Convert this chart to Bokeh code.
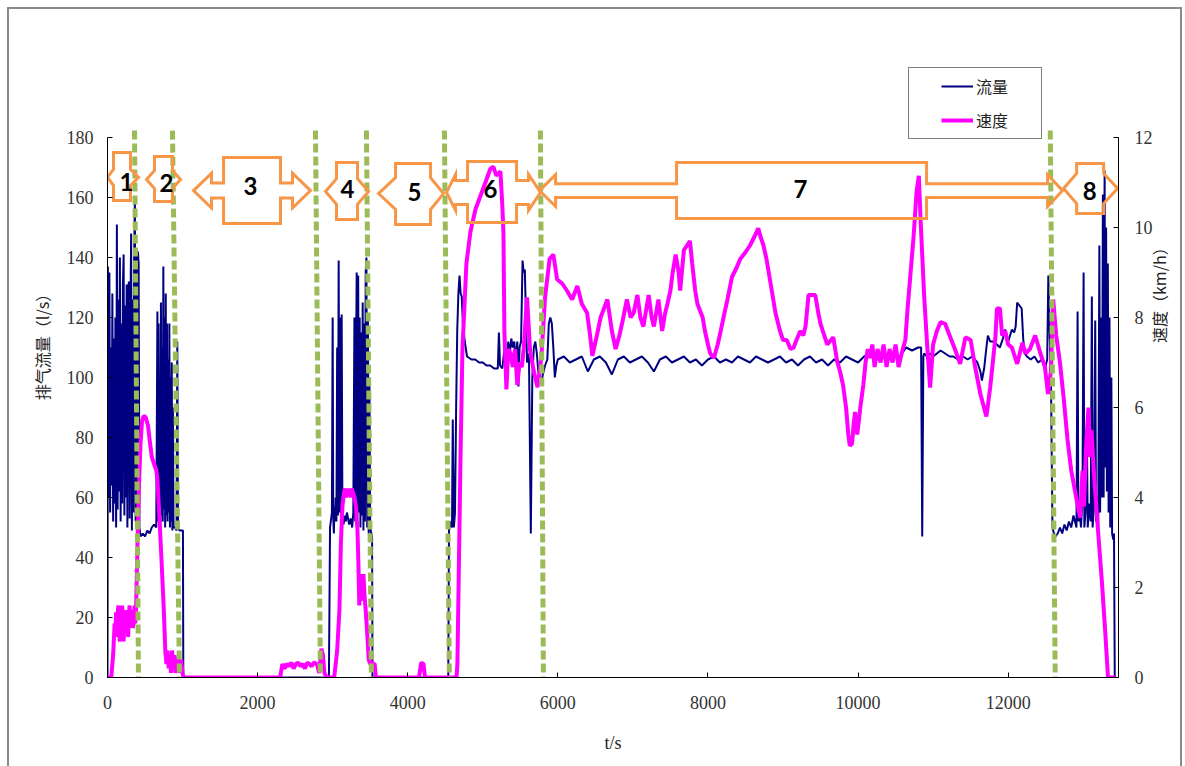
import math

from bokeh.core.properties import value
from bokeh.embed import file_html
from bokeh.models import FixedTicker, Legend, LegendItem, LinearAxis, Range1d
from bokeh.plotting import figure
from bokeh.resources import INLINE

# ---------------------------------------------------------------- data ----
# exhaust flow (l/s) against time (s), phase by phase
flow_t_p1 = [0, 5, 15, 25, 35, 45, 55, 65, 75, 85, 95, 105, 115, 125, 135, 145, 155, 165, 175, 185,
             195, 205, 215, 225, 235, 245, 255, 265, 275, 285, 295, 305, 315, 325, 335, 345, 355, 365,
             375, 385, 395, 405, 415, 425, 440, 470, 500, 530, 560, 590, 620, 650]
flow_q_p1 = [0, 137, 60, 135, 55, 110, 64, 128, 52, 113, 58, 120, 50, 151, 56, 126, 62, 140, 52, 118,
             58, 131, 141, 54, 124, 60, 131, 50, 129, 132, 53, 120, 148, 49, 126, 55, 140, 160,
             52, 143, 48, 142, 138, 50, 47, 48, 47, 49, 48, 50, 51, 50]

flow_t_p2 = [665, 672, 680, 688, 696, 704, 712, 720, 728, 736, 744, 752, 760, 768, 776, 784, 792, 800,
             808, 816, 824, 832, 840, 848, 856, 864, 872, 880, 900, 920, 930, 940, 960, 990, 1005, 1010]
flow_q_p2 = [122, 52, 118, 55, 98, 50, 125, 54, 110, 52, 137, 56, 120, 50, 128, 54, 118, 52,
             106, 55, 118, 50, 100, 52, 105, 49, 90, 50, 50, 49, 112, 50, 49, 49, 49, 0]

flow_t_p4 = [2950, 2965, 2980, 2990, 3000, 3008, 3016, 3024, 3032, 3040, 3050, 3060, 3070, 3080, 3090,
             3100, 3110, 3120, 3130, 3145, 3160, 3175, 3190, 3205, 3220, 3240, 3260, 3275, 3290, 3300,
             3310, 3320, 3330, 3340, 3350, 3360, 3370, 3380, 3390, 3400, 3410, 3420, 3430, 3440, 3450,
             3460, 3470, 3480, 3490, 3500, 3515, 3525, 3530]
flow_q_p4 = [0, 50, 53, 55, 120, 53, 48, 57, 52, 60, 52, 110, 54, 139, 55,
             120, 52, 121, 53, 51, 54, 52, 55, 53, 51, 53, 50, 55, 120, 52,
             100, 135, 54, 134, 55, 120, 50, 115, 54, 125, 49, 118, 52, 135, 140,
             50, 120, 48, 100, 50, 48, 47, 0]

flow_t_p6 = [4540, 4550, 4570, 4590, 4600, 4615, 4630, 4645, 4660, 4675, 4690, 4705, 4720, 4735, 4760,
             4790, 4850, 4900, 4950, 5000, 5050, 5100, 5150, 5200, 5215, 5230, 5260, 5290, 5310, 5340,
             5360, 5380, 5400, 5420, 5440, 5460, 5475, 5490, 5510, 5530, 5545, 5560, 5590, 5615, 5640,
             5660, 5680, 5700, 5720, 5740, 5760, 5780, 5800, 5830, 5860, 5880, 5900, 5920, 5940, 5960,
             5980]
flow_q_p6 = [0, 49, 52, 50, 86, 50, 55, 90, 116, 128, 134, 128, 127, 118, 112,
             107, 106, 106, 105, 105, 104, 104, 103, 103, 115, 104, 103, 110, 104, 112,
             108, 113, 110, 112, 105, 112, 97, 110, 112, 139, 135, 136, 105, 108, 48,
             100, 110, 112, 108, 102, 100, 98, 101, 104, 106, 118, 120, 118, 110, 100,
             104]

flow_t_p7 = [6000, 6080, 6160, 6240, 6320, 6400, 6480, 6560, 6640, 6720, 6800, 6880, 6960, 7040, 7120,
             7200, 7280, 7360, 7440, 7520, 7600, 7680, 7760, 7840, 7920, 8000, 8080, 8160, 8240, 8320,
             8400, 8480, 8560, 8640, 8720, 8800, 8880, 8960, 9040, 9120, 9200, 9280, 9360, 9440, 9520,
             9600, 9680, 9760, 9840, 9920, 10000, 10080, 10160, 10240, 10320, 10400, 10480, 10560,
             10640, 10720, 10800, 10840, 10855, 10870, 10880, 10920, 10960, 11000, 11050, 11100,
             11160, 11220, 11270, 11330, 11400, 11460, 11520, 11590, 11630, 11650, 11680, 11710,
             11730, 11760, 11800, 11850, 11890, 11930, 11960, 12000, 12050, 12080, 12100, 12120,
             12150, 12180, 12200, 12220, 12250, 12300, 12350, 12400, 12450, 12490, 12520, 12535,
             12550, 12570, 12590]
flow_q_p7 = [106, 107, 105, 106, 107, 102, 106, 107, 105, 101, 106, 107, 105, 106, 107,
             105, 102, 106, 107, 105, 106, 107, 105, 106, 104, 106, 107, 105, 106, 105,
             107, 106, 105, 107, 106, 105, 106, 107, 105, 106, 104, 106, 107, 105, 106,
             104, 106, 105, 107, 106, 105, 107, 108, 106, 107, 106, 108, 107,
             110, 109, 110, 110, 47, 107, 108, 107, 108, 107, 108, 109,
             108, 107, 107, 106, 107, 106, 107, 105, 102, 99, 103, 110,
             114, 112, 112, 111, 110, 113, 116, 112, 116, 115, 117, 125,
             124, 123, 113, 108, 107, 106, 107, 105, 106, 103, 106, 134,
             118, 100, 50]

flow_t_p8 = [12610, 12630, 12660, 12690, 12720, 12750, 12780, 12810, 12840, 12870, 12890, 12910, 12925,
             12935, 12950, 12970, 12990, 13005, 13015, 13030, 13050, 13060, 13080, 13100, 13115, 13125,
             13140, 13160, 13170, 13185, 13200, 13215, 13225, 13240, 13250, 13262, 13272, 13285, 13295,
             13305, 13315, 13328, 13338, 13350, 13360, 13375, 13385, 13400, 13410, 13420, 13440]
flow_q_p8 = [48, 47, 48, 50, 48, 51, 49, 52, 50, 54, 52, 50, 122,
             52, 56, 50, 60, 135, 50, 55, 78, 50, 58, 52, 127, 50,
             56, 119, 52, 60, 50, 144, 55, 120, 60, 161, 60, 169, 70,
             150, 62, 138, 55, 120, 50, 100, 48, 46, 48, 0, 0]

# vehicle speed (km/h) against time (s)
speed_t_p1 = [0, 50, 75, 95, 105, 115, 125, 135, 145, 155, 165, 175, 185, 195, 205, 215, 225, 235, 245,
              255, 265, 275, 285, 295, 305, 320, 335, 350, 360, 370, 380, 400, 420, 440, 460, 480, 505,
              540, 560, 590, 610, 630, 650, 665, 690, 720, 750, 770, 785, 800, 815, 830, 845, 860, 875,
              890, 905, 920, 935, 950, 965, 980, 1000, 1010]
speed_v_p1 = [0, 0, 0.5, 1.2, 1.0, 1.45, 0.9, 1.4, 1.6, 1.0, 0.8, 1.3, 1.1, 1.6, 1.2, 0.8, 1.3, 1.0, 1.5,
              1.2, 1.3, 0.9, 1.4, 1.6, 1.1, 1.5, 1.1, 1.2, 1.6, 1.2, 1.5, 3.0, 4.3, 5.2, 5.7, 5.8, 5.8,
              5.6, 5.3, 4.9, 4.8, 4.7, 4.6, 4.4, 3.6, 2.6, 1.5, 0.6, 0.3, 0.6, 0.2, 0.5, 0.1, 0.6, 0.3,
              0.5, 0.1, 0.4, 0.2, 0.5, 0.1, 0.4, 0.1, 0]

speed_t_p3 = [2300, 2330, 2360, 2390, 2420, 2450, 2480, 2510, 2540, 2570, 2600, 2630, 2660, 2690, 2720,
              2750, 2790, 2820, 2850, 2870, 2890, 2920]
speed_v_p3 = [0, 0.3, 0.2, 0.3, 0.25, 0.33, 0.2, 0.3, 0.33, 0.25, 0.3, 0.2, 0.33, 0.3, 0.25,
              0.33, 0.3, 0.1, 0.64, 0.5, 0.1, 0]

speed_t_p4 = [3020, 3040, 3060, 3090, 3110, 3130, 3150, 3165, 3180, 3195, 3210, 3225, 3240, 3255, 3270,
              3290, 3310, 3330, 3345, 3355, 3365, 3375, 3385, 3395, 3410, 3425, 3440, 3460, 3480, 3500,
              3520, 3540, 3560, 3575]
speed_v_p4 = [0, 0.3, 0.6, 1.5, 3.0, 3.8, 4.1, 4.2, 4.0, 4.2, 4.05, 4.2, 4.0, 4.2, 4.1,
              4.0, 3.8, 3.3, 2.4, 1.6, 2.3, 1.7, 2.3, 1.8, 2.3, 1.8, 1.5, 1.0, 0.4, 0.3,
              0.35, 0.3, 0.3, 0]

speed_t_p5 = [4150, 4180, 4210, 4230]
speed_v_p5 = [0, 0.33, 0.3, 0]

speed_t_p6 = [4650, 4662, 4702, 4729, 4782, 4835, 4902, 4968, 5035, 5100, 5142, 5180, 5235, 5260, 5275,
              5288, 5315, 5340, 5370, 5400, 5430, 5460, 5490, 5520, 5545, 5590, 5630, 5680, 5730, 5780,
              5830, 5890, 5940, 5990]
speed_v_p6 = [0, 0.3, 4.75, 7.3, 9.2, 9.9, 10.4, 10.7, 11.0, 11.3, 11.35, 11.15, 11.25, 10.5, 9.9,
              7.7, 6.4, 7.3, 7.2, 6.9, 7.3, 6.5, 7.0, 6.9, 7.3, 8.45, 7.27, 6.8, 6.45, 7.1,
              8.45, 9.3, 9.4, 8.85]

speed_t_p7 = [6060, 6120, 6190, 6260, 6320, 6390, 6430, 6460, 6520, 6570,
              6660, 6720, 6770, 6820, 6860, 6920, 6970, 7010, 7060, 7100,
              7140, 7180, 7210, 7250, 7280, 7340, 7390, 7430, 7460, 7500,
              7530, 7570, 7610, 7630, 7680, 7720, 7760, 7790, 7830, 7860,
              7930, 7960, 8000, 8030, 8080, 8130, 8170, 8220, 8260, 8320,
              8380, 8430, 8500, 8560, 8620, 8670, 8700, 8740, 8780, 8830,
              8870, 8900, 8960, 9000, 9050, 9100, 9140, 9180, 9230, 9270,
              9300, 9340, 9390, 9430, 9470, 9500, 9550, 9590, 9640, 9670,
              9720, 9760, 9800, 9840, 9870, 9890, 9920, 9940, 9960, 9990,
              10030, 10070, 10100, 10130, 10160, 10190, 10220, 10260, 10300, 10340,
              10380, 10420, 10460, 10500, 10540, 10580, 10630, 10660, 10700, 10740,
              10780, 10810, 10835, 10880, 10920, 10960, 11000, 11050, 11100, 11160,
              11220, 11290, 11360, 11430, 11500, 11560, 11630, 11710, 11760, 11830,
              11850, 11890, 11920, 11960, 12000, 12050, 12120, 12190, 12230, 12290,
              12360, 12430, 12490, 12530, 12570, 12600]
speed_v_p7 = [8.75, 8.6, 8.4, 8.7, 8.3, 8.1, 7.6, 7.15, 7.6, 8.0,
              8.4, 7.7, 7.3, 7.6, 7.9, 8.4, 8.0, 8.1, 8.5, 8.0,
              7.8, 8.2, 8.5, 8.0, 7.8, 8.4, 7.7, 8.1, 8.3, 8.6,
              9.0, 9.4, 9.0, 8.6, 9.5, 9.6, 9.7, 9.2, 8.6, 8.3,
              8.0, 7.7, 7.4, 7.2, 7.1, 7.4, 7.7, 8.1, 8.4, 8.9,
              9.1, 9.3, 9.45, 9.6, 9.8, 9.98, 9.8, 9.6, 9.3, 8.8,
              8.4, 8.1, 7.7, 7.5, 7.5, 7.3, 7.33, 7.5, 7.7, 7.6,
              7.8, 8.5, 8.5, 8.5, 8.1, 7.86, 7.6, 7.4, 7.5, 7.56,
              7.04, 6.8, 6.5, 6.0, 5.4, 5.15, 5.2, 5.6, 5.9, 5.4,
              6.0, 6.5, 7.0, 7.3, 7.1, 7.4, 6.9, 7.3, 7.0, 7.4,
              6.9, 7.3, 7.0, 7.4, 6.9, 7.2, 7.5, 8.2, 9.0, 9.8,
              10.8, 11.15, 10.1, 8.5, 7.4, 6.44, 7.4, 7.7, 7.9, 7.86,
              7.6, 7.3, 6.97, 7.56, 7.5, 6.9, 6.3, 5.8, 6.44, 7.56,
              8.2, 8.2, 7.6, 7.7, 7.4, 7.33, 6.97, 7.44, 7.2, 7.3,
              7.6, 7.2, 6.9, 6.3, 6.8, 8.4]

speed_t_p8 = [12640, 12690, 12740, 12790, 12840, 12890, 12940, 12960, 12990, 13010, 13040, 13070, 13090,
              13110, 13140, 13170, 13200, 13250, 13290, 13330, 13430]
speed_v_p8 = [7.6, 7.0, 6.2, 5.3, 4.6, 4.15, 3.7, 3.55, 4.6, 3.8, 5.2, 6.0, 4.9,
              5.5, 4.6, 3.9, 3.2, 2.1, 1.1, 0, 0]

# phase boundaries (s): where each dashed divider meets the top and the bottom of the plot
boundary_top = [360, 866, 2771, 3450, 4489, 5768, 12561]
boundary_bottom = [413, 959, 2837, 3516, 4555, 5808, 12627]

phase_names = ["1", "2", "3", "4", "5", "6", "7", "8"]
phase_label_t = [253, 786, 1905, 3198, 4091, 5103, 9234, 13085]
phase_label_q = [165.3, 164.7, 163.7, 163.0, 161.7, 163.0, 163.0, 162.3]

x_ticks = [0, 2000, 4000, 6000, 8000, 10000, 12000]
flow_ticks = [0, 20, 40, 60, 80, 100, 120, 140, 160, 180]
speed_ticks = [0, 2, 4, 6, 8, 10, 12]

flow_t = flow_t_p1 + flow_t_p2 + flow_t_p4 + flow_t_p6 + flow_t_p7 + flow_t_p8
flow_q = flow_q_p1 + flow_q_p2 + flow_q_p4 + flow_q_p6 + flow_q_p7 + flow_q_p8
speed_t = speed_t_p1 + speed_t_p3 + speed_t_p4 + speed_t_p5 + speed_t_p6 + speed_t_p7 + speed_t_p8
speed_v = speed_v_p1 + speed_v_p3 + speed_v_p4 + speed_v_p5 + speed_v_p6 + speed_v_p7 + speed_v_p8

# ------------------------------------------------------------- styling ----
NAVY = "#000080"
MAGENTA = "#FF00FF"
GREEN = "#9BBB59"
ORANGE = "#F79646"
TICK_FONT = "Liberation Serif"
CJK_FONT = "Noto Sans CJK SC"

T_MAX = 13470
FLOW_MAX, SPEED_MAX = 180, 12
# the plotting frame reaches up to the chart-area edge so the legend and arrows sit inside it;
# the axes themselves stop at FLOW_MAX / SPEED_MAX
FLOW_TOP = 223.0
SPEED_TOP = FLOW_TOP * SPEED_MAX / FLOW_MAX

p = figure(width=1185, height=766, x_range=Range1d(0, T_MAX), y_range=Range1d(0, FLOW_TOP),
           output_backend="svg", toolbar_location=None,
           min_border_left=107, min_border_right=67, min_border_top=8, min_border_bottom=89,
           background_fill_alpha=0, border_fill_alpha=0, outline_line_color=None)
p.xgrid.visible = False
p.ygrid.visible = False
p.extra_y_ranges = {"speed": Range1d(0, SPEED_TOP)}

# grey chart-area border (left, top and right edges) painted behind the canvas
p.styles = {
    "background-color": "white",
    "background-image": "linear-gradient(#8a8a8a, #8a8a8a), linear-gradient(#8a8a8a, #8a8a8a), "
                        "linear-gradient(#8a8a8a, #8a8a8a)",
    "background-size": "2px 760px, 2px 760px, 1175px 2px",
    "background-position": "7px 7px, 1180px 7px, 7px 7px",
    "background-repeat": "no-repeat",
}

p.xaxis.ticker = FixedTicker(ticks=x_ticks)
p.yaxis.ticker = FixedTicker(ticks=flow_ticks)
p.yaxis.bounds = (0, FLOW_MAX)
speed_axis = LinearAxis(y_range_name="speed", ticker=FixedTicker(ticks=speed_ticks),
                        bounds=(0, SPEED_MAX))
p.add_layout(speed_axis, "right")

for ax in (p.xaxis[0], p.yaxis[0], speed_axis):
    ax.major_tick_in = 5
    ax.major_tick_out = 0
    ax.minor_tick_line_color = None
    ax.axis_line_color = "black"
    ax.major_tick_line_color = "black"
    ax.major_label_text_font = TICK_FONT
    ax.major_label_text_font_size = "18px"
    ax.major_label_text_color = "#333333"
    ax.axis_label_text_font_style = "normal"
    ax.axis_label_text_color = "#222222"
p.yaxis[0].major_label_standoff = 14
speed_axis.major_label_standoff = 16
p.xaxis[0].major_label_standoff = 18

p.yaxis[0].axis_label = "排气流量（l/s）"
p.yaxis[0].axis_label_text_font = CJK_FONT
p.yaxis[0].axis_label_text_font_size = "16px"
p.yaxis[0].axis_label_standoff = 10

speed_axis.axis_label = "速度（km/h）"
speed_axis.axis_label_text_font = CJK_FONT
speed_axis.axis_label_text_font_size = "16px"
speed_axis.axis_label_standoff = 3
if "axis_label_orientation" in speed_axis.properties():
    # read bottom-to-top, like the left title
    speed_axis.axis_label_orientation = math.pi / 2

p.xaxis[0].axis_label = "t/s"
p.xaxis[0].axis_label_text_font = TICK_FONT
p.xaxis[0].axis_label_text_font_size = "18px"
p.xaxis[0].axis_label_standoff = 21

# --------------------------------------------------------------- series ---
r_flow = p.line(flow_t, flow_q, line_color=NAVY, line_width=2)
r_speed = p.line(speed_t, speed_v, y_range_name="speed", line_color=MAGENTA, line_width=4)

# dashed phase dividers
p.segment(x0=boundary_top, y0=[182.3] * len(boundary_top),
          x1=boundary_bottom, y1=[-1] * len(boundary_bottom),
          line_color=GREEN, line_width=5, line_dash="9 4")

# double-headed block arrows marking each phase
phase_arrows = [
    dict(box=(80, 306), top=175.0, bottom=159.0, cy=166.7, tips=(0, 413), necks=(80, 306), head=2.7, shaft=2.7),
    dict(box=(626, 866), top=173.7, bottom=158.7, cy=166.0, tips=(520, 973), necks=(626, 866), head=3.0, shaft=3.0),
    dict(box=(1546, 2305), top=173.3, bottom=151.3, cy=162.3, tips=(1146, 2705), necks=(1386, 2465), head=5.8, shaft=2.5),
    dict(box=(3051, 3331), top=171.7, bottom=152.7, cy=162.0, tips=(2905, 3478), necks=(3051, 3331), head=4.3, shaft=4.3),
    dict(box=(3838, 4304), top=171.3, bottom=151.0, cy=161.3, tips=(3611, 4477), necks=(3838, 4304), head=5.3, shaft=5.3),
    dict(box=(4797, 5450), top=172.0, bottom=151.7, cy=161.7, tips=(4517, 5770), necks=(4637, 5610), head=6.0, shaft=4.0),
    dict(box=(7582, 10913), top=171.7, bottom=153.0, cy=162.3, tips=(5756, 12725), necks=(5970, 12525), head=5.3, shaft=2.3),
    dict(box=(12912, 13272), top=171.3, bottom=154.7, cy=163.0, tips=(12739, 13458), necks=(12912, 13272), head=5.0, shaft=5.0),
]


def arrow_outline(a):
    bl, br = a["box"]
    tl, tr = a["tips"]
    nl, nr = a["necks"]
    top, bot, cy, h, s = a["top"], a["bottom"], a["cy"], a["head"], a["shaft"]
    xs = [bl, br, br, nr, nr, tr, nr, nr, br, br, bl, bl, nl, nl, tl, nl, nl, bl]
    ys = [top, top, cy + s, cy + s, cy + h, cy, cy - h, cy - s, cy - s, bot, bot,
          cy - s, cy - s, cy - h, cy, cy + h, cy + s, cy + s]
    return xs, ys


outlines = [arrow_outline(a) for a in phase_arrows]
p.patches([o[0] for o in outlines], [o[1] for o in outlines],
          fill_alpha=0, line_color=ORANGE, line_width=3, line_join="miter")

p.text(x=phase_label_t, y=phase_label_q, text=phase_names,
       text_font=value("Lato"), text_font_style="bold", text_font_size="24px",
       text_align="center", text_baseline="middle", text_color="black")

# ---------------------------------------------------------------- legend ---
# key renderers sit left of the visible range; the dash pattern leaves a blank
# lead-in before each key line
flow_key = p.line([-2000, -1000], [0, 0], line_color=NAVY, line_width=2,
                  line_dash="32 26", line_dash_offset=32)
speed_key = p.line([-2000, -1000], [0, 0], line_color=MAGENTA, line_width=4,
                   line_dash="32 26", line_dash_offset=32)

legend = Legend(items=[LegendItem(label="流量", renderers=[flow_key]),
                       LegendItem(label="速度", renderers=[speed_key])],
                location=(801, 538), border_line_color="black", border_line_width=1,
                background_fill_color="white", background_fill_alpha=1,
                padding=6, margin=0, spacing=10, glyph_width=58, glyph_height=24,
                label_standoff=3, label_height=24, label_width=59,
                label_text_font=CJK_FONT, label_text_font_size="16px",
                label_text_color="#222222")
p.add_layout(legend)

open("out.html", "w").write(file_html(p, INLINE))
